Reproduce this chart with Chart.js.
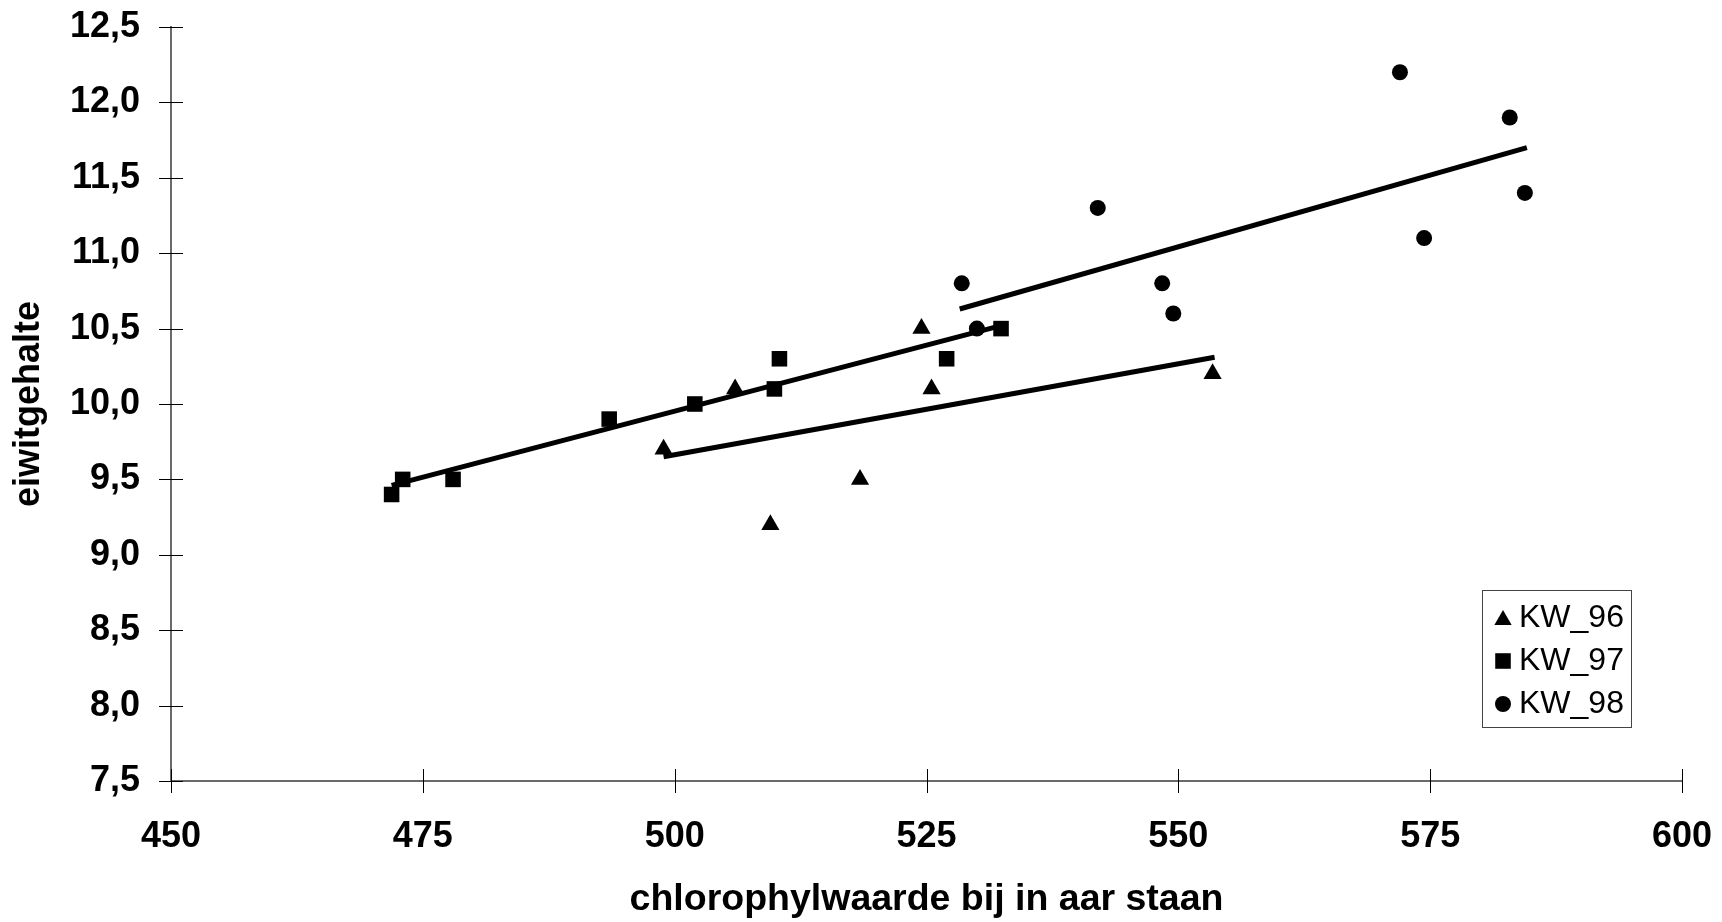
<!DOCTYPE html>
<html>
<head>
<meta charset="utf-8">
<title>eiwitgehalte</title>
<script src="https://cdn.jsdelivr.net/npm/chart.js@4.4.1/dist/chart.umd.min.js"></script>
<style>
  html, body { margin: 0; padding: 0; background: #fff; }
  #wrap { width: 1722px; height: 922px; }
</style>
</head>
<body>
<div id="wrap"><canvas id="chart" width="1722" height="922"></canvas></div>
<script>
// punten
const kw96 = [
  {x: 498.9, y: 9.7}, {x: 506.0, y: 10.1}, {x: 509.5, y: 9.2}, {x: 518.4, y: 9.5},
  {x: 524.5, y: 10.5}, {x: 525.5, y: 10.1}, {x: 553.4, y: 10.2}
];
const kw97 = [
  {x: 471.9, y: 9.4}, {x: 473.0, y: 9.5}, {x: 478.0, y: 9.5}, {x: 493.5, y: 9.9},
  {x: 502.0, y: 10.0}, {x: 509.9, y: 10.1}, {x: 510.4, y: 10.3}, {x: 527.0, y: 10.3},
  {x: 532.4, y: 10.5}
];
const kw98 = [
  {x: 528.5, y: 10.8}, {x: 530.0, y: 10.5}, {x: 542.0, y: 11.3}, {x: 548.4, y: 10.8},
  {x: 549.5, y: 10.6}, {x: 572.0, y: 12.2}, {x: 574.4, y: 11.1}, {x: 582.9, y: 11.9},
  {x: 584.4, y: 11.4}
];
const trend96 = [{x: 498.9, y: 9.65}, {x: 553.6, y: 10.31}];
const trend97 = [{x: 471.9, y: 9.46}, {x: 532.4, y: 10.52}];
const trend98 = [{x: 528.3, y: 10.63}, {x: 584.6, y: 11.70}];

const seriesNames = ['KW_96', 'KW_97', 'KW_98'];
const seriesStyles = ['triangle', 'rect', 'circle'];
const xTicks = [450, 475, 500, 525, 550, 575, 600];
const yTicks = [7.5, 8.0, 8.5, 9.0, 9.5, 10.0, 10.5, 11.0, 11.5, 12.0, 12.5];
const yTickLabels = ['7,5', '8,0', '8,5', '9,0', '9,5', '10,0', '10,5', '11,0', '11,5', '12,0', '12,5'];

const FONT = "'Liberation Sans', Arial, Helvetica, sans-serif";

const crossTicks = {
  id: 'crossTicks',
  afterDraw(chart) {
    const ctx = chart.ctx, xs = chart.scales.x, ys = chart.scales.y;
    const a = chart.chartArea;
    ctx.save();
    ctx.strokeStyle = '#000';
    ctx.lineWidth = 1;
    ctx.beginPath();
    xs.ticks.forEach((t, i) => {
      const px = Math.round(xs.getPixelForTick(i)) + 0.5;
      ctx.moveTo(px, a.bottom - 12);
      ctx.lineTo(px, a.bottom + 12);
    });
    ys.ticks.forEach((t, i) => {
      const py = Math.round(ys.getPixelForTick(i)) + 0.5;
      ctx.moveTo(a.left - 12, py);
      ctx.lineTo(a.left + 12, py);
    });
    ctx.stroke();
    ctx.restore();
  }
};

function marker(ctx, style, x, y, r) {
  ctx.beginPath();
  if (style === 'triangle') {
    ctx.moveTo(x, y - r);
    ctx.lineTo(x + r * 0.866, y + r * 0.5);
    ctx.lineTo(x - r * 0.866, y + r * 0.5);
    ctx.closePath();
  } else if (style === 'rect') {
    const s = r * Math.SQRT1_2;
    ctx.rect(x - s, y - s, 2 * s, 2 * s);
  } else {
    ctx.arc(x, y, r, 0, Math.PI * 2);
  }
  ctx.fill();
}

const boxLegend = {
  id: 'boxLegend',
  afterDraw(chart) {
    const ctx = chart.ctx;
    const left = 1482, top = 590, w = 149, h = 137;
    ctx.save();
    ctx.fillStyle = '#fff';
    ctx.fillRect(left, top, w, h);
    ctx.strokeStyle = '#444';
    ctx.lineWidth = 1;
    ctx.strokeRect(left + 0.5, top + 0.5, w, h);
    ctx.font = '32px ' + FONT;
    ctx.textBaseline = 'middle';
    ctx.textAlign = 'left';
    const radii = [10, 11, 8];
    seriesNames.forEach((name, i) => {
      const cy = top + 28 + i * 43;
      ctx.fillStyle = '#000';
      marker(ctx, seriesStyles[i], left + 21, cy + (i === 0 ? 2 : 0), radii[i]);
      ctx.fillText(name, left + 37, cy);
    });
    ctx.restore();
  }
};

const pointSet = (label, data, style, r) => ({
  label, data, pointStyle: style, pointRadius: r, pointHoverRadius: r,
  backgroundColor: '#000', borderColor: '#000', borderWidth: 0, showLine: false
});
const lineSet = (data) => ({
  data, showLine: true, pointRadius: 0, pointHoverRadius: 0,
  borderColor: '#000', borderWidth: 5, fill: false, borderCapStyle: 'butt'
});

new Chart(document.getElementById('chart').getContext('2d'), {
  type: 'scatter',
  data: {
    datasets: [
      pointSet(seriesNames[0], kw96, 'triangle', 10.5),
      pointSet(seriesNames[1], kw97, 'rect', 11),
      pointSet(seriesNames[2], kw98, 'circle', 8),
      lineSet(trend96),
      lineSet(trend97),
      lineSet(trend98)
    ]
  },
  options: {
    responsive: false,
    animation: false,
    layout: { padding: { top: 27, right: 40, left: 0, bottom: 0 } },
    plugins: { legend: { display: false }, tooltip: { enabled: false } },
    scales: {
      x: {
        type: 'linear', min: 450, max: 600,
        afterBuildTicks: s => { s.ticks = xTicks.map(v => ({ value: v })); },
        afterFit: s => { s.height = 141; s.paddingLeft = 0; s.paddingRight = 0; },
        ticks: { color: '#000', padding: 34, maxRotation: 0,
                 font: { family: FONT, size: 36, weight: 'bold' } },
        grid: { drawOnChartArea: false, drawTicks: false },
        border: { color: '#6a6a6a', width: 2 },
        title: { display: true, text: 'chlorophylwaarde bij in aar staan', color: '#000',
                 padding: { top: 0, bottom: 0 },
                 font: { family: FONT, size: 37.5, weight: 'bold' } }
      },
      y: {
        type: 'linear', min: 7.5, max: 12.5,
        afterBuildTicks: s => { s.ticks = yTicks.map(v => ({ value: v })); },
        afterFit: s => { s.width = 171; s.paddingTop = 0; s.paddingBottom = 0; },
        ticks: { color: '#000', padding: 31,
                 callback: (v, i) => yTickLabels[i],
                 font: { family: FONT, size: 36, weight: 'bold' } },
        grid: { drawOnChartArea: false, drawTicks: false },
        border: { color: '#6a6a6a', width: 2 },
        title: { display: true, text: 'eiwitgehalte', color: '#000',
                 padding: { top: 7, bottom: 0 },
                 font: { family: FONT, size: 36, weight: 'bold' } }
      }
    }
  },
  plugins: [crossTicks, boxLegend]
});
</script>
</body>
</html>
